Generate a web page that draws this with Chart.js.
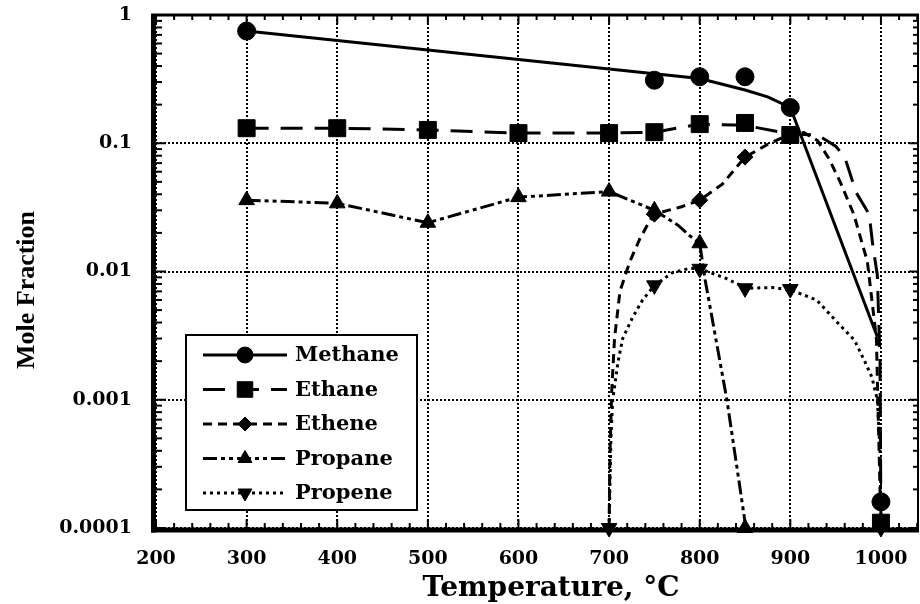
<!DOCTYPE html>
<html>
<head>
<meta charset="utf-8">
<script src="https://cdn.jsdelivr.net/npm/chart.js@4.4.1/dist/chart.umd.min.js"></script>
<style>
  html, body { margin: 0; padding: 0; background: #fff; }
  #wrap { width: 920px; height: 604px; }
</style>
</head>
<body>
<div id="wrap"><canvas id="chart" width="920" height="604"></canvas></div>
<script>
// measured points (markers)
const methaneT = [300, 750, 800, 850, 900, 1000];
const methaneY = [0.75, 0.31, 0.33, 0.33, 0.19, 0.00016];
const ethaneT = [300, 400, 500, 600, 700, 750, 800, 850, 900, 1000];
const ethaneY = [0.131, 0.131, 0.127, 0.12, 0.12, 0.122, 0.141, 0.144, 0.116, 0.00011];
const etheneT = [750, 800, 850, 900];
const etheneY = [0.028, 0.036, 0.078, 0.118];
const propaneT = [300, 400, 500, 600, 700, 750, 800, 850];
const propaneY = [0.036, 0.034, 0.024, 0.038, 0.042, 0.030, 0.0166, 0.0001];
const propeneT = [700, 750, 800, 850, 900, 1000];
const propeneY = [0.0001, 0.0078, 0.0105, 0.0074, 0.0073, 0.0001];

// model curves
const methaneFitT = [300, 800, 850, 875, 900, 996];
const methaneFitY = [0.75, 0.32, 0.26, 0.23, 0.19, 0.0031];
const ethaneFitT = [300, 400, 500, 600, 700, 750, 800, 850, 900, 930, 950, 960, 967, 972, 987, 991, 996, 999, 1000];
const ethaneFitY = [0.131, 0.131, 0.127, 0.12, 0.12, 0.122, 0.141, 0.138, 0.118, 0.116, 0.095, 0.078, 0.055, 0.042, 0.028, 0.016, 0.0094, 0.002, 0.00011];
const etheneFitT = [700, 701, 703, 706, 712, 723, 734, 745, 750, 780, 800, 825, 850, 875, 900, 915, 930, 943, 955, 970, 985, 995, 1000];
const etheneFitY = [0.0001, 0.0004, 0.0012, 0.003, 0.007, 0.012, 0.018, 0.025, 0.028, 0.032, 0.036, 0.048, 0.078, 0.098, 0.118, 0.121, 0.105, 0.075, 0.05, 0.028, 0.012, 0.003, 0.0001];
const propaneFitT = [300, 400, 500, 600, 700, 750, 776, 789, 800, 806, 830, 851];
const propaneFitY = [0.036, 0.034, 0.024, 0.038, 0.042, 0.030, 0.023, 0.019, 0.0166, 0.0086, 0.001, 0.0001];
const propeneFitT = [700, 702, 704, 710, 715, 726, 737, 750, 770, 789, 800, 828, 852, 880, 900, 929, 955, 971, 982, 990, 996, 999, 1000];
const propeneFitY = [0.0001, 0.0005, 0.001, 0.002, 0.003, 0.0044, 0.006, 0.0078, 0.0098, 0.0106, 0.0105, 0.0089, 0.0074, 0.0075, 0.0072, 0.006, 0.0038, 0.0029, 0.002, 0.0015, 0.001, 0.0004, 0.0001];

const xTicks = [200, 300, 400, 500, 600, 700, 800, 900, 1000];
const yTicks = [0.0001, 0.001, 0.01, 0.1, 1];
const yTickLabels = ['0.0001', '0.001', '0.01', '0.1', '1'];

const series = [
  { label: 'Methane', t: methaneT, y: methaneY, fitT: methaneFitT, fitY: methaneFitY, dash: [], style: 'circle', radius: 9, rotation: 0 },
  { label: 'Ethane', t: ethaneT, y: ethaneY, fitT: ethaneFitT, fitY: ethaneFitY, dash: [22, 12], style: 'rect', radius: 12, rotation: 0 },
  { label: 'Ethene', t: etheneT, y: etheneY, fitT: etheneFitT, fitY: etheneFitY, dash: [9, 6], style: 'rectRot', radius: 8, rotation: 0 },
  { label: 'Propane', t: propaneT, y: propaneY, fitT: propaneFitT, fitY: propaneFitY, dash: [14, 4, 4, 4, 4, 4], style: 'triangle', radius: 9, rotation: 0 },
  { label: 'Propene', t: propeneT, y: propeneY, fitT: propeneFitT, fitY: propeneFitY, dash: [3, 4], style: 'triangle', radius: 9, rotation: 180 }
];

function pts(t, y) {
  return t.map(function (v, i) { return { x: v, y: y[i] }; });
}

var datasets = [];
series.forEach(function (s) {
  datasets.push({
    label: s.label, data: pts(s.fitT, s.fitY),
    borderColor: '#000', borderWidth: 3, borderDash: s.dash,
    pointRadius: 0, tension: 0, fill: false, clip: false
  });
  datasets.push({
    label: s.label + ' data', data: pts(s.t, s.y), showLine: false,
    pointStyle: s.style, pointRadius: s.radius, pointRotation: s.rotation,
    pointBackgroundColor: '#000', pointBorderColor: '#000', pointBorderWidth: 1, clip: false
  });
});

function seg(ctx, x1, y1, x2, y2) {
  ctx.beginPath();
  ctx.moveTo(x1, y1);
  ctx.lineTo(x2, y2);
  ctx.stroke();
}

// keep the plot box fixed: no extra room for overhanging tick labels
function noPad(s) {
  s.paddingTop = 0; s.paddingBottom = 0; s.paddingLeft = 0; s.paddingRight = 0;
}

const tickFont = { family: 'DejaVu Serif', size: 19, weight: 'bold' };

// axis frame, inward ticks, x labels and axis titles
const frame = {
  id: 'frame',
  afterDraw: function (chart) {
    var ctx = chart.ctx, a = chart.chartArea, x = chart.scales.x, y = chart.scales.y;
    ctx.save();
    ctx.strokeStyle = '#000';
    ctx.lineWidth = 2;
    for (var t = 200; t <= 1040; t += 20) {
      var px = x.getPixelForValue(t);
      var len = t % 100 === 0 ? 9 : 5;
      seg(ctx, px, a.bottom, px, a.bottom - len);
      seg(ctx, px, a.top, px, a.top + len);
    }
    for (var d = -4; d <= 0; d++) {
      for (var k = 1; k <= 9; k++) {
        var v = k * Math.pow(10, d);
        if (v > 1.0001) break;
        var py = y.getPixelForValue(v);
        var l2 = k === 1 ? 10 : 6;
        seg(ctx, a.left, py, a.left + l2, py);
        seg(ctx, a.right, py, a.right - l2, py);
      }
    }
    ctx.lineWidth = 5;
    seg(ctx, a.left - 2.5, a.top - 1, a.left - 2.5, a.bottom + 4.5);
    seg(ctx, a.left - 5, a.bottom + 2, a.right, a.bottom + 2);
    ctx.lineWidth = 3;
    seg(ctx, a.left - 5, a.top, a.right, a.top);
    ctx.lineWidth = 2;
    seg(ctx, a.right - 1, a.top, a.right - 1, a.bottom);

    ctx.fillStyle = '#000';
    ctx.textAlign = 'center';
    ctx.textBaseline = 'middle';
    ctx.font = "bold 19px 'DejaVu Serif'";
    xTicks.forEach(function (t) {
      ctx.fillText(String(t), x.getPixelForValue(t), a.bottom + 31);
    });

    ctx.font = "bold 28px 'DejaVu Serif'";
    ctx.fillText('Temperature, \u00B0C', 551, 589);
    ctx.translate(27, 290);
    ctx.rotate(-Math.PI / 2);
    ctx.font = "bold 26px 'Liberation Serif'";
    ctx.fillText('Mole Fraction', 0, 0);
    ctx.restore();
  }
};

// boxed legend with line sample and marker for each species
const boxLegend = {
  id: 'boxLegend',
  afterDraw: function (chart) {
    var ctx = chart.ctx, a = chart.chartArea;
    var bx = a.left + 30, by = a.top + 320, bw = 231, bh = 175;
    ctx.save();
    ctx.fillStyle = '#fff';
    ctx.fillRect(bx, by, bw, bh);
    ctx.strokeStyle = '#000';
    ctx.lineWidth = 2;
    ctx.strokeRect(bx, by, bw, bh);
    series.forEach(function (s, i) {
      var cy = by + 20 + i * 34.5;
      ctx.lineWidth = 3;
      ctx.setLineDash(s.dash);
      seg(ctx, bx + 17, cy, bx + 101, cy);
      ctx.setLineDash([]);
      ctx.fillStyle = '#000';
      ctx.lineWidth = 1;
      Chart.helpers.drawPoint(ctx, { pointStyle: s.style, radius: s.radius - 1, rotation: s.rotation, borderWidth: 1 }, bx + 59, cy);
      ctx.fillStyle = '#000';
      ctx.font = "bold 21px 'DejaVu Serif'";
      ctx.textAlign = 'left';
      ctx.textBaseline = 'middle';
      ctx.fillText(s.label, bx + 109, cy + 1);
    });
    ctx.restore();
  }
};

new Chart(document.getElementById('chart'), {
  type: 'line',
  data: { datasets: datasets },
  options: {
    responsive: false,
    animation: false,
    layout: { autoPadding: false, padding: { top: 15, right: 1, left: 0, bottom: 0 } },
    plugins: { legend: { display: false }, tooltip: { enabled: false } },
    scales: {
      x: {
        type: 'linear', min: 200, max: 1042,
        afterBuildTicks: function (s) { s.ticks = xTicks.map(function (v) { return { value: v }; }); },
        afterFit: function (s) { s.height = 76; noPad(s); },
        grid: { color: '#000', lineWidth: 2, drawTicks: false },
        border: { display: false, dash: [2, 2] },
        ticks: { display: false }
      },
      y: {
        type: 'logarithmic', min: 0.0001, max: 1,
        afterBuildTicks: function (s) { s.ticks = yTicks.map(function (v) { return { value: v }; }); },
        afterFit: function (s) { s.width = 156; noPad(s); },
        grid: { color: '#000', lineWidth: 2, drawTicks: false },
        border: { display: false, dash: [2, 2] },
        ticks: { color: '#000', font: tickFont, padding: 24, autoSkip: false,
                 callback: function (v) { var i = yTicks.indexOf(v); return i >= 0 ? yTickLabels[i] : ''; } }
      }
    }
  },
  plugins: [frame, boxLegend]
});
</script>
</body>
</html>
